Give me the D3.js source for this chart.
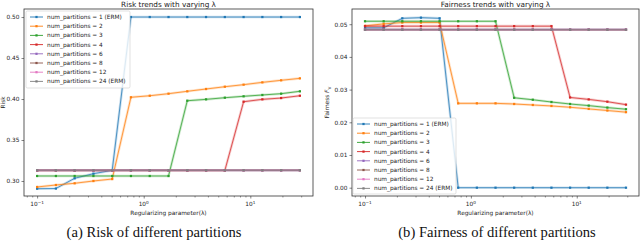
<!DOCTYPE html>
<html><head><meta charset="utf-8">
<script src="https://cdn.jsdelivr.net/npm/d3@7"></script>
<style>
body{margin:0;background:#fff;}
svg{display:block;font-family:"DejaVu Sans",sans-serif;}
</style></head>
<body><svg id="c" width="640" height="246"></svg>
<script>
// ---- data ----
const lambdas = [0.1,0.15,0.225,0.3375,0.50625,0.759,1.139,1.709,2.563,3.844,5.767,8.65,12.97,19.46,29.19];
const seriesNames = ["num_partitions = 1 (ERM)","num_partitions = 2","num_partitions = 3","num_partitions = 4","num_partitions = 6","num_partitions = 8","num_partitions = 12","num_partitions = 24 (ERM)"];
const colors = ["#1f77b4","#ff7f0e","#2ca02c","#d62728","#9467bd","#8c564b","#e377c2","#7f7f7f"];
const riskP1  = [0.2906,0.2908,0.3033,0.3089,0.3130,0.500,0.500,0.500,0.500,0.500,0.500,0.500,0.500,0.500,0.500];
const riskP2  = [0.2927,0.2951,0.2972,0.3000,0.3024,0.4021,0.4040,0.4065,0.4094,0.4122,0.4150,0.4175,0.4203,0.4228,0.4252];
const riskP3  = [0.3061,0.3061,0.3061,0.3061,0.3061,0.3061,0.3061,0.3061,0.3979,0.3996,0.4016,0.4033,0.4049,0.4065,0.4094];
const riskP4  = [0.3128,0.3128,0.3128,0.3128,0.3128,0.3128,0.3128,0.3128,0.3128,0.3128,0.3128,0.3967,0.3996,0.4012,0.4040];
const riskP6  = [0.3131,0.3131,0.3131,0.3131,0.3131,0.3131,0.3131,0.3131,0.3131,0.3131,0.3131,0.3131,0.3131,0.3131,0.3131];
const riskP8  = [0.3131,0.3131,0.3131,0.3131,0.3131,0.3131,0.3131,0.3131,0.3131,0.3131,0.3131,0.3131,0.3131,0.3131,0.3131];
const riskP12 = [0.3131,0.3131,0.3131,0.3131,0.3131,0.3131,0.3131,0.3131,0.3131,0.3131,0.3131,0.3131,0.3131,0.3131,0.3131];
const riskP24 = [0.3131,0.3131,0.3131,0.3131,0.3131,0.3131,0.3131,0.3131,0.3131,0.3131,0.3131,0.3131,0.3131,0.3131,0.3131];
const fairP1  = [0.0489,0.0489,0.0518,0.0520,0.0518,0.0,0.0,0.0,0.0,0.0,0.0,0.0,0.0,0.0,0.0];
const fairP2  = [0.0495,0.0501,0.0505,0.0505,0.0505,0.0258,0.0258,0.0258,0.0256,0.0253,0.0250,0.0246,0.0241,0.0236,0.0231];
const fairP3  = [0.0509,0.0509,0.0509,0.0509,0.0509,0.0509,0.0509,0.0509,0.0275,0.0269,0.0262,0.0256,0.0251,0.0245,0.0240];
const fairP4  = [0.0494,0.0494,0.0494,0.0494,0.0494,0.0494,0.0494,0.0494,0.0494,0.0494,0.0494,0.0276,0.0270,0.0263,0.0254];
const fairP6  = [0.0484,0.0484,0.0484,0.0484,0.0484,0.0484,0.0484,0.0484,0.0484,0.0484,0.0484,0.0484,0.0484,0.0484,0.0484];
const fairP8  = [0.0483,0.0483,0.0483,0.0483,0.0483,0.0483,0.0483,0.0483,0.0483,0.0483,0.0483,0.0483,0.0483,0.0483,0.0483];
const fairP12 = [0.0483,0.0483,0.0483,0.0483,0.0483,0.0483,0.0483,0.0483,0.0483,0.0483,0.0483,0.0483,0.0483,0.0483,0.0483];
const fairP24 = [0.0483,0.0483,0.0483,0.0483,0.0483,0.0483,0.0483,0.0483,0.0483,0.0483,0.0483,0.0483,0.0483,0.0483,0.0483];
const riskSeries = [riskP1,riskP2,riskP3,riskP4,riskP6,riskP8,riskP12,riskP24];
const fairSeries = [fairP1,fairP2,fairP3,fairP4,fairP6,fairP8,fairP12,fairP24];
const riskTicks = [0.30,0.35,0.40,0.45,0.50];
const fairTicks = [0.00,0.01,0.02,0.03,0.04,0.05];
const xTicks = [0.1,1,10];
const xTickExp = ["\u22121","0","1"];

const svg = d3.select("#c");

function panel(opt){
  const g = svg.append("g");
  const x = d3.scaleLog().domain(opt.xdom).range([opt.x0,opt.x1]);
  const y = d3.scaleLinear().domain(opt.ydom).range([opt.y1,opt.y0]);
  // lines
  const line = d3.line().x((d,i)=>x(lambdas[i])).y(d=>y(d));
  opt.series.forEach((s,k)=>{
    g.append("path").attr("d",line(s)).attr("fill","none").attr("stroke",colors[k]).attr("stroke-width",2.6).attr("stroke-opacity",0.22);
    g.append("path").attr("d",line(s)).attr("fill","none").attr("stroke",colors[k]).attr("stroke-width",0.75);
    g.selectAll(null).data(s).enter().append("path")
      .attr("transform",(d,i)=>`translate(${x(lambdas[i])},${y(d)})`)
      .attr("d",d3.symbol(d3.symbolSquare,5)).attr("fill",colors[k]);
  });
  // frame
  g.append("rect").attr("x",opt.x0).attr("y",opt.y0).attr("width",opt.x1-opt.x0).attr("height",opt.y1-opt.y0)
    .attr("fill","none").attr("stroke","#333").attr("stroke-width",0.8);
  // y ticks
  const ya = g.append("g").attr("transform",`translate(${opt.x0},0)`)
    .call(d3.axisLeft(y).tickValues(opt.yticks).tickFormat(d3.format(".2f")).tickSize(2.5).tickPadding(2));
  ya.select(".domain").remove();
  ya.selectAll("text").attr("font-size",5.8).attr("fill","#222").attr("font-family","DejaVu Sans");
  ya.selectAll("line").attr("stroke","#333").attr("stroke-width",0.6);
  // x ticks major + minor
  const minor = [];
  for (let e=-2;e<=2;e++) for (let m=2;m<=9;m++){const v=m*Math.pow(10,e); if(v>=opt.xdom[0]&&v<=opt.xdom[1]) minor.push(v);}
  const xm = g.append("g").attr("transform",`translate(0,${opt.y1})`)
    .call(d3.axisBottom(x).tickValues(minor).tickFormat("").tickSize(1.5));
  xm.select(".domain").remove();
  xm.selectAll("line").attr("stroke","#333").attr("stroke-width",0.5);
  const xa = g.append("g").attr("transform",`translate(0,${opt.y1})`)
    .call(d3.axisBottom(x).tickValues(xTicks).tickFormat("").tickSize(2.5));
  xa.select(".domain").remove();
  xa.selectAll("line").attr("stroke","#333").attr("stroke-width",0.6);
  xTicks.forEach((v,i)=>{
    const t = g.append("text").attr("x",x(v)).attr("y",opt.y1+10).attr("text-anchor","middle")
      .attr("font-size",5.8).attr("fill","#222");
    t.append("tspan").text("10");
    t.append("tspan").attr("font-size",4.2).attr("dy",-2.5).text(xTickExp[i]);
  });
  // labels
  g.append("text").attr("x",(opt.x0+opt.x1)/2).attr("y",opt.y1+19).attr("text-anchor","middle")
    .attr("font-size",5.8).attr("fill","#222").text("Regularizing parameter(\u03bb)");
  g.append("text").attr("x",(opt.x0+opt.x1)/2).attr("y",6.5).attr("text-anchor","middle")
    .attr("font-size",7.3).attr("fill","#222").text(opt.title);
  const yl = g.append("text").attr("transform",`translate(${opt.ylx},${(opt.y0+opt.y1)/2}) rotate(-90)`)
    .attr("text-anchor","middle").attr("font-size",5.8).attr("fill","#222");
  opt.ylabel(yl);
  // legend
  const lg = g.append("g");
  lg.append("rect").attr("x",opt.lx).attr("y",opt.ly).attr("width",opt.lw).attr("height",opt.lh).attr("rx",1.5)
    .attr("fill","#fff").attr("fill-opacity",0.8).attr("stroke","#ccc").attr("stroke-width",0.6);
  seriesNames.forEach((n,k)=>{
    const yy = opt.ly+6+k*9.2;
    lg.append("line").attr("x1",opt.lx+4).attr("x2",opt.lx+17).attr("y1",yy).attr("y2",yy).attr("stroke",colors[k]).attr("stroke-width",0.9);
    lg.append("path").attr("transform",`translate(${opt.lx+10.5},${yy})`).attr("d",d3.symbol(d3.symbolSquare,5)).attr("fill",colors[k]);
    lg.append("text").attr("x",opt.lx+21).attr("y",yy+2).attr("font-size",5.8).attr("fill","#222").text(n);
  });
}

panel({x0:24,x1:313,y0:9,y1:196,xdom:[Math.pow(10,-1.123),Math.pow(10,1.588)],ydom:[0.2817,0.5098],
  yticks:riskTicks,series:riskSeries,title:"Risk trends with varying \u03bb",ylx:5,
  ylabel:t=>t.text("Risk"),lx:26,ly:11,lw:104,lh:77});
panel({x0:352,x1:639,y0:9,y1:196,xdom:[Math.pow(10,-1.123),Math.pow(10,1.588)],ydom:[-0.00254,0.05465],
  yticks:fairTicks,series:fairSeries,title:"Fairness trends with varying \u03bb",ylx:329,
  ylabel:t=>{t.append("tspan").text("Fairness ");t.append("tspan").attr("font-style","italic").text("F");t.append("tspan").attr("font-size",4.2).attr("dy",1.5).text("V");},
  lx:353,ly:118,lw:103,lh:76});

// captions
svg.append("text").attr("x",154).attr("y",237).attr("text-anchor","middle").attr("font-family","Liberation Serif")
  .attr("font-size",14.6).attr("fill","#111").text("(a) Risk of different partitions");
svg.append("text").attr("x",497).attr("y",237).attr("text-anchor","middle").attr("font-family","Liberation Serif")
  .attr("font-size",14.6).attr("fill","#111").text("(b) Fairness of different partitions");
</script></body></html>
